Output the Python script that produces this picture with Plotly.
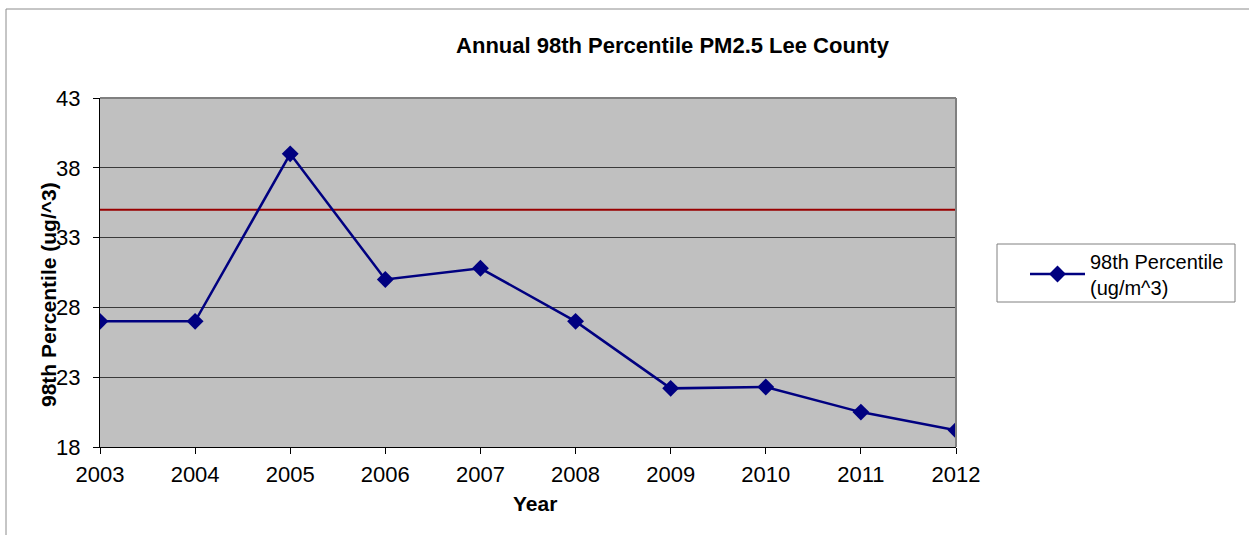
import plotly.graph_objects as go

# Annual 98th percentile PM2.5 concentrations, Lee County
years = [2003, 2004, 2005, 2006, 2007, 2008, 2009, 2010, 2011, 2012]
pm25_98th = [27.0, 27.0, 39.0, 30.0, 30.8, 27.0, 22.2, 22.3, 20.5, 19.2]
standard_level = 35  # 24-hour PM2.5 standard
y_ticks = [18, 23, 28, 33, 38, 43]

W, H = 1249, 535
L, R, T, B = 100, 293, 98, 88
pw, ph = W - L - R, H - T - B

def px_x(px):
    return (px - L) / pw

def px_y(py):
    return (H - B - py) / ph

FONT = "Liberation Sans, Arial, sans-serif"

fig = go.Figure()

# standard reference line
fig.add_trace(go.Scatter(
    x=[years[0], years[-1]], y=[standard_level, standard_level],
    mode="lines", showlegend=False, hoverinfo="skip",
    line=dict(color="#990000", width=2),
))

fig.add_trace(go.Scatter(
    x=years, y=pm25_98th,
    mode="lines+markers",
    name="98th Percentile<br>(ug/m^3)",
    line=dict(color="#000080", width=2.5),
    marker=dict(symbol="diamond", size=13, color="#000080"),
))

shapes = [
    # outer chart frame
    dict(type="rect", xref="paper", yref="paper",
         x0=px_x(6), x1=px_x(1260), y0=px_y(560), y1=px_y(9),
         line=dict(color="#8c8c8c", width=1), layer="below"),
    # plot-area frame (top and right)
    dict(type="line", xref="paper", yref="paper", x0=0, x1=1, y0=1, y1=1,
         line=dict(color="#808080", width=2)),
    dict(type="line", xref="paper", yref="paper", x0=1, x1=1, y0=0, y1=1,
         line=dict(color="#808080", width=2)),
    # legend box
    dict(type="rect", xref="paper", yref="paper",
         x0=px_x(997), x1=px_x(1235), y0=px_y(302), y1=px_y(244),
         line=dict(color="#808080", width=1), fillcolor="white", layer="below"),
]

annotations = [
    dict(text="<b>98th Percentile (ug/^3)</b>", textangle=-90,
         xref="paper", yref="paper", x=px_x(48), y=px_y(295),
         xanchor="center", yanchor="middle", showarrow=False,
         font=dict(size=21, family=FONT, color="black")),
    dict(text="<b>Year</b>",
         xref="paper", yref="paper", x=px_x(535), y=px_y(504),
         xanchor="center", yanchor="middle", showarrow=False,
         font=dict(size=21, family=FONT, color="black")),
]

fig.update_layout(
    width=W, height=H,
    margin=dict(l=L, r=R, t=T, b=B, autoexpand=False),
    paper_bgcolor="white",
    plot_bgcolor="#C0C0C0",
    font=dict(family=FONT, size=20, color="black"),
    title=dict(text="<b>Annual 98th Percentile PM2.5 Lee County</b>",
               font=dict(size=22, family=FONT),
               xref="container", yref="container",
               x=672.5 / W, y=1 - 45 / H, xanchor="center", yanchor="middle"),
    showlegend=True,
    legend=dict(x=px_x(1025), y=px_y(274), xanchor="left", yanchor="middle",
                bgcolor="rgba(0,0,0,0)", borderwidth=0,
                font=dict(size=20, family=FONT), itemwidth=55),
    shapes=shapes,
    annotations=annotations,
    xaxis=dict(
        range=[years[0], years[-1]], tickvals=years,
        ticktext=[str(y) for y in years],
        showgrid=False, zeroline=False,
        showline=True, linecolor="black", linewidth=1,
        ticks="outside", ticklen=6, tickcolor="black",
        ticklabelstandoff=2, tickfont=dict(size=22),
    ),
    yaxis=dict(
        range=[18, 43], tickvals=y_ticks,
        showgrid=True, gridcolor="#3a3a3a", gridwidth=1, zeroline=False,
        showline=True, linecolor="black", linewidth=1,
        ticks="outside", ticklen=6, tickcolor="black",
        ticklabelstandoff=8, tickfont=dict(size=22),
    ),
)

fig.write_html("out.html")
